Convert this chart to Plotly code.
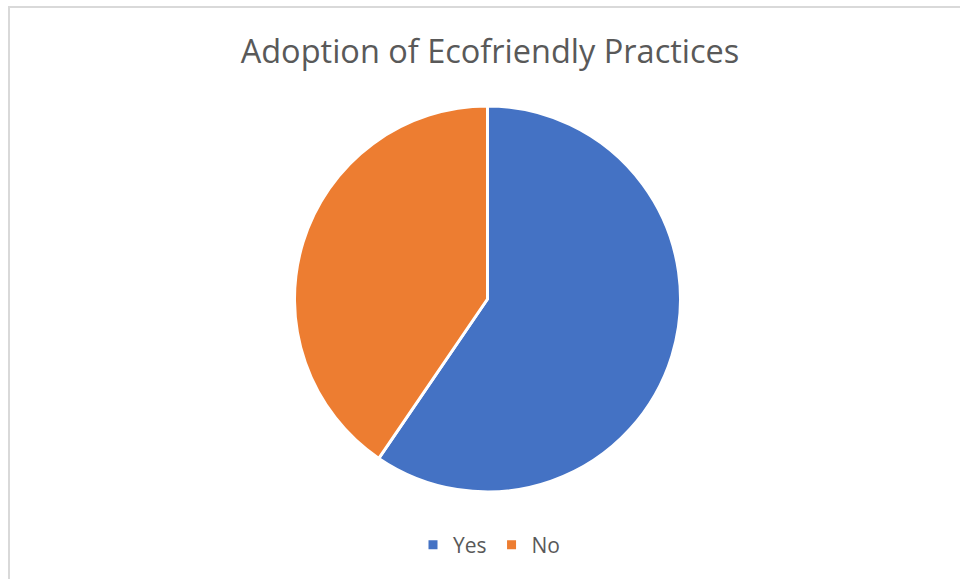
import plotly.graph_objects as go

categories = ["Yes", "No"]
values = [25, 17]
colors = ["#4472C4", "#ED7D31"]

W, H = 960, 579
cx, cy, r = 487.5, 299, 193

fig = go.Figure(go.Pie(
    labels=categories,
    values=values,
    marker=dict(colors=colors, line=dict(color="white", width=3)),
    sort=False,
    direction="clockwise",
    rotation=0,
    textinfo="none",
    hoverinfo="label+percent",
    domain=dict(x=[(cx - r) / W, (cx + r) / W],
                y=[(H - cy - r) / H, (H - cy + r) / H]),
))

fig.update_layout(
    width=W, height=H,
    margin=dict(l=0, r=0, t=0, b=0),
    paper_bgcolor="white",
    plot_bgcolor="white",
    title=dict(text="Adoption of Ecofriendly Practices",
               x=490 / W, xanchor="center",
               y=1 - 52 / H, yanchor="middle",
               font=dict(family="Open Sans", size=32.5, color="#595959")),
    showlegend=True,
    legend=dict(orientation="h", x=489 / W, xanchor="center",
                y=1 - 545 / H, yanchor="middle",
                font=dict(family="Open Sans", size=21, color="#595959"),
                itemwidth=30, tracegroupgap=0),
    shapes=[dict(type="rect", xref="paper", yref="paper",
                 x0=9 / W, x1=1.02, y0=-0.02, y1=1 - 7 / H,
                 line=dict(color="#d9d9d9", width=2), fillcolor="rgba(0,0,0,0)",
                 layer="below")],
)

fig.write_html("out.html",
               config={"displayModeBar": False},
               post_script="document.body.style.margin='0';document.body.style.padding='0';")
